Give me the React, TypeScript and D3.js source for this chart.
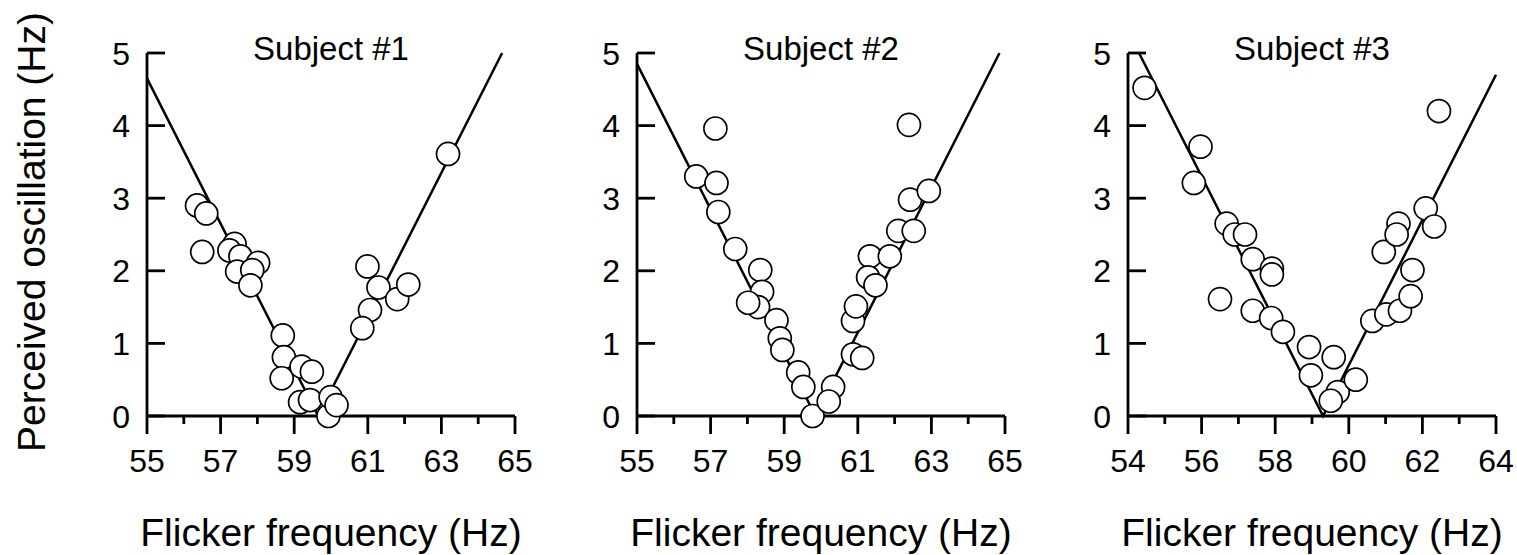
import React from 'react';
import * as d3 from 'd3';

const titles = ["Subject #1", "Subject #2", "Subject #3"];
const xDomains = [[55, 65], [55, 65], [54, 64]];
const yTicks = [0, 1, 2, 3, 4, 5];
// vertex of the V-shaped fit (|f - f0|) for each subject
const fitCenters = [59.65, 59.85, 59.3];

const s1Freq = [56.36, 56.61, 56.5, 57.38, 57.24, 57.54, 57.45, 58.02, 57.86, 57.81, 58.69, 58.72, 58.66, 59.2, 59.48, 59.16, 59.43, 59.93, 59.99, 60.15, 60.99, 61.06, 60.85, 61.29, 61.8, 62.1, 63.18];
const s1Osc = [2.9, 2.79, 2.26, 2.37, 2.28, 2.2, 1.99, 2.11, 2.01, 1.8, 1.11, 0.81, 0.52, 0.68, 0.61, 0.19, 0.22, 0.0, 0.26, 0.15, 2.06, 1.46, 1.21, 1.77, 1.61, 1.81, 3.61];

const s2Freq = [57.13, 62.39, 56.61, 57.16, 57.21, 57.67, 58.35, 58.4, 58.29, 58.02, 58.79, 58.88, 58.95, 59.38, 59.52, 59.77, 60.33, 60.21, 60.87, 61.12, 60.87, 60.95, 61.33, 61.28, 61.48, 61.87, 62.1, 62.42, 62.52, 62.93];
const s2Osc = [3.96, 4.01, 3.3, 3.21, 2.81, 2.3, 2.01, 1.71, 1.5, 1.56, 1.32, 1.07, 0.91, 0.6, 0.4, 0.0, 0.4, 0.2, 0.85, 0.8, 1.31, 1.51, 2.2, 1.91, 1.8, 2.2, 2.55, 2.98, 2.55, 3.1];

const s3Freq = [54.45, 55.97, 55.79, 56.68, 56.9, 57.18, 57.39, 57.91, 57.91, 56.5, 57.39, 57.89, 58.21, 58.92, 58.97, 59.59, 59.7, 59.51, 60.19, 60.64, 61.02, 61.39, 60.95, 61.35, 61.3, 61.73, 61.68, 62.09, 62.32, 62.45];
const s3Osc = [4.52, 3.71, 3.21, 2.65, 2.5, 2.5, 2.16, 2.03, 1.95, 1.61, 1.45, 1.35, 1.16, 0.95, 0.56, 0.81, 0.33, 0.21, 0.5, 1.31, 1.4, 1.45, 2.26, 2.65, 2.5, 2.01, 1.65, 2.86, 2.61, 4.2];

const freqs = [s1Freq, s2Freq, s3Freq];
const oscs = [s1Osc, s2Osc, s3Osc];

const panelLefts = [147, 637, 1128];
const panelW = 368;
const top = 53;
const bottom = 416;
const font = "'Liberation Sans', Arial, Helvetica, sans-serif";

function Panel({ i }: { i: number }) {
  const left = panelLefts[i];
  const [lo, hi] = xDomains[i];
  const x = d3.scaleLinear().domain([lo, hi]).range([left, left + panelW]);
  const y = d3.scaleLinear().domain([0, 5]).range([bottom, top]);
  const f0 = fitCenters[i];
  const line = d3.line<[number, number]>().x(d => x(d[0])).y(d => y(d[1]));
  const l0 = Math.max(lo, f0 - 5);
  const r1 = Math.min(hi, f0 + 5);
  const fit: [number, number][] = [[l0, f0 - l0], [f0, 0], [r1, r1 - f0]];
  const xTicks = d3.range(lo, hi + 1);
  const cx = left + panelW / 2;

  return (
    <g>
      <text x={cx} y={60} textAnchor="middle" fontSize={33}>{titles[i]}</text>
      <path d={line(fit) || ''} fill="none" stroke="#000" strokeWidth={2.5} />
      {/* axes */}
      <line x1={left} x2={left} y1={top} y2={bottom} stroke="#000" strokeWidth={2.8} />
      <line x1={left} x2={left + panelW} y1={bottom} y2={bottom} stroke="#000" strokeWidth={2.8} />
      {yTicks.map(t => (
        <g key={'y' + t}>
          <line x1={left} x2={left + 18} y1={y(t)} y2={y(t)} stroke="#000" strokeWidth={2.8} />
          <text x={left - 17} y={y(t)} dy="0.36em" textAnchor="end" fontSize={32}>{t}</text>
        </g>
      ))}
      {xTicks.map(t => {
        const major = (t - lo) % 2 === 0;
        return (
          <g key={'x' + t}>
            <line x1={x(t)} x2={x(t)} y1={bottom} y2={bottom + (major ? 18 : 8)} stroke="#000" strokeWidth={2.8} />
            {major && <text x={x(t)} y={472} textAnchor="middle" fontSize={32}>{t}</text>}
          </g>
        );
      })}
      {freqs[i].map((f, j) => (
        <circle key={j} cx={x(f)} cy={y(oscs[i][j])} r={11.5} fill="#fff" stroke="#000" strokeWidth={1.7} />
      ))}
      <text x={cx} y={546} textAnchor="middle" fontSize={39}>Flicker frequency (Hz)</text>
    </g>
  );
}

export default function App() {
  return (
    <svg width={1517} height={555} style={{ position: 'absolute', left: 0, top: 0, background: '#fff' }} fontFamily={font}>
      <text transform="translate(45,232) rotate(-90)" textAnchor="middle" fontSize={39}>Perceived oscillation (Hz)</text>
      {[0, 1, 2].map(i => <Panel key={i} i={i} />)}
    </svg>
  );
}
